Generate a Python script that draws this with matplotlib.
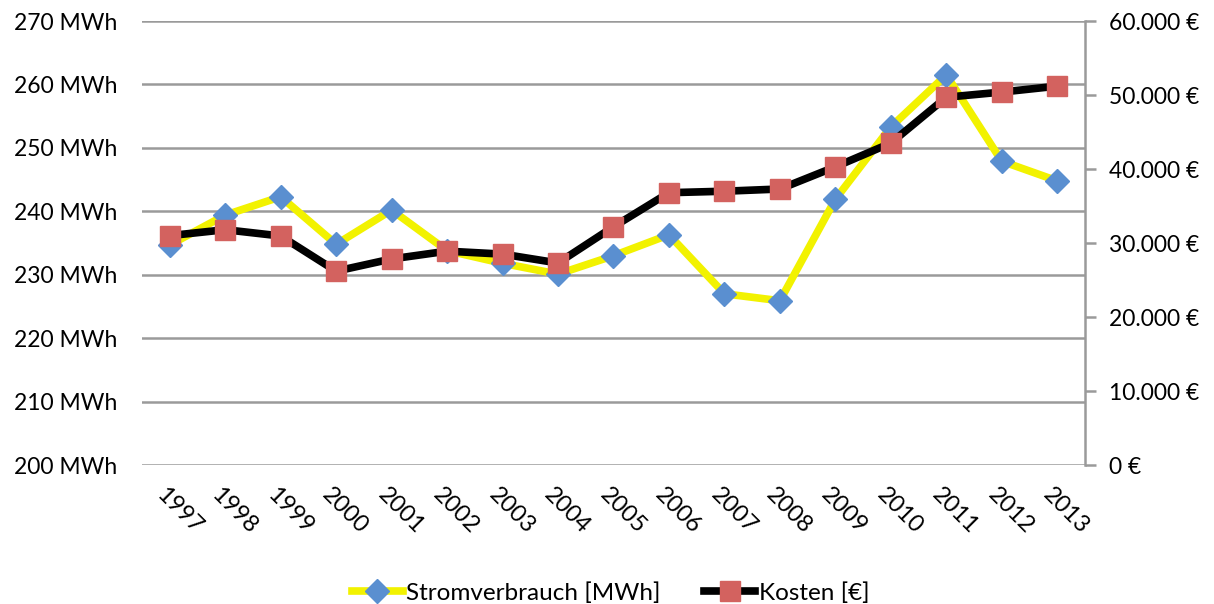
import matplotlib
matplotlib.use("Agg")
import matplotlib.pyplot as plt
import matplotlib.transforms as mtransforms
from matplotlib.ticker import FuncFormatter

plt.rcParams['font.family'] = ['Lato', 'DejaVu Sans']

years = ["1997", "1998", "1999", "2000", "2001", "2002", "2003", "2004", "2005",
         "2006", "2007", "2008", "2009", "2010", "2011", "2012", "2013"]
strom = [234.7, 239.4, 242.3, 234.8, 240.2, 233.8, 231.8, 230.1, 233.0,
         236.3, 227.0, 225.9, 241.9, 253.3, 261.5, 247.9, 244.8]
kosten = [31000, 31800, 30950, 26200, 27850, 28900, 28500, 27300, 32200,
          36800, 37000, 37300, 40300, 43500, 49700, 50400, 51200]
left_ticks = [200, 210, 220, 230, 240, 250, 260, 270]
right_ticks = [0, 10000, 20000, 30000, 40000, 50000, 60000]

fig = plt.figure(figsize=(12.14, 6.04), dpi=100)
ax = fig.add_axes([0.117, 0.2301, 0.7767, 0.7351])
ax2 = ax.twinx()

x = list(range(len(years)))
grid_c = '#9a9a9a'
fs = 16.5

l1, = ax.plot(x, strom, color='#f2f200', lw=5.5, marker='D', markersize=12,
              markerfacecolor='#5a8fd0', markeredgecolor='#5a8fd0', zorder=3,
              label='Stromverbrauch [MWh]')
l2, = ax2.plot(x, kosten, color='black', lw=5.5, marker='s', markersize=14,
               markerfacecolor='#d3625f', markeredgecolor='#d3625f', zorder=3,
               label='Kosten [€]')

ax.set_xlim(-0.5, len(years) - 0.5)
ax.set_ylim(200, 270)
ax.set_yticks(left_ticks)
ax.set_yticklabels([f"{v} MWh" for v in left_ticks])
ax.yaxis.grid(True, color=grid_c, lw=1.8)
ax.set_axisbelow(True)

ax2.set_ylim(0, 60000)
ax2.set_yticks(right_ticks)
ax2.yaxis.set_major_formatter(FuncFormatter(lambda v, p: f"{int(v):,} €".replace(",", ".")))

for a in (ax, ax2):
    for s in ('top', 'left', 'bottom'):
        a.spines[s].set_visible(False)
ax.spines['right'].set_visible(False)
ax2.spines['right'].set_color(grid_c)
ax2.spines['right'].set_linewidth(1.8)

ax.tick_params(axis='y', length=0, labelsize=fs, pad=18)
ax2.tick_params(axis='y', length=8, width=1.8, color=grid_c, labelsize=fs, pad=9)
ax.set_xticks(x)
ax.set_xticklabels(years, rotation=-45, ha='center', va='top', fontsize=17)
ax.tick_params(axis='x', length=0, pad=14)
offset = mtransforms.ScaledTranslation(9 / 100, 0, fig.dpi_scale_trans)
for lab in ax.get_xticklabels():
    lab.set_transform(lab.get_transform() + offset)

fig.legend([l1, l2], [l1.get_label(), l2.get_label()], loc='center',
           bbox_to_anchor=(0.503, 0.018), ncol=2, frameon=False, fontsize=17.5,
           handlelength=2.1, handletextpad=0.15, columnspacing=1.8)

fig.savefig("out.png", dpi=100)
